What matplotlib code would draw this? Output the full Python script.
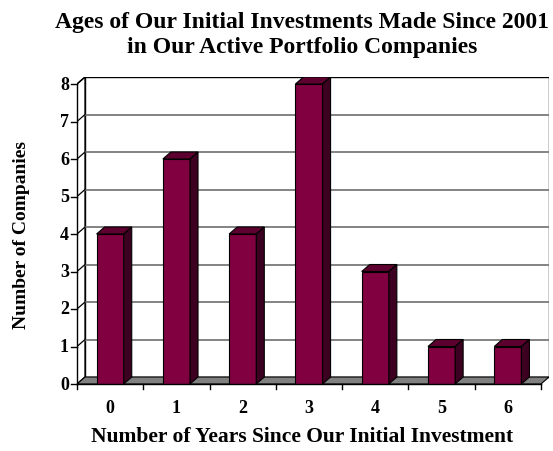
import matplotlib
matplotlib.use("Agg")
import matplotlib.pyplot as plt
from matplotlib.patches import Polygon, Rectangle

categories = ["0", "1", "2", "3", "4", "5", "6"]
values = [4, 6, 4, 8, 3, 1, 1]
yticks = [0, 1, 2, 3, 4, 5, 6, 7, 8]
title = "Ages of Our Initial Investments Made Since 2001\nin Our Active Portfolio Companies"
xlabel = "Number of Years Since Our Initial Investment"
ylabel = "Number of Companies"

plt.rcParams['font.family'] = ['Liberation Serif', 'DejaVu Serif']

fig = plt.figure(figsize=(5.53, 4.52), dpi=100)
W, H = 553, 452
left_px, right_px, bot_px, top_px = 77, 549, 385, 78
ax = fig.add_axes([left_px / W, 1 - bot_px / H, (right_px - left_px) / W, (bot_px - top_px) / H])

n = len(categories)
ymax = max(yticks)
dx = 8 / 66.0
dy = 7 / 37.5
xl, xr = -0.5, n - 0.5
ax.set_xlim(xl, xr + dx)
ax.set_ylim(0, ymax + dy)
for s in ax.spines.values():
    s.set_visible(False)
ax.set_xticks([])
ax.set_yticks([])

front = '#800040'
topc = '#5e002f'
side = '#3c0020'
gridc = '#7a7a7a'

# back wall
ax.add_patch(Rectangle((xl + dx, dy), xr - xl, ymax, facecolor='white', edgecolor='black', lw=1.0, zorder=1))
# left wall
ax.add_patch(Polygon([(xl, 0), (xl + dx, dy), (xl + dx, ymax + dy), (xl, ymax)], closed=True,
                     facecolor='white', edgecolor='black', lw=1.0, zorder=1))
# gridlines
for v in yticks[1:-1]:
    ax.plot([xl + dx, xr + dx], [v + dy, v + dy], color=gridc, lw=1.3, zorder=2)
for v in yticks[1:]:
    ax.plot([xl, xl + dx], [v, v + dy], color='black', lw=0.9, zorder=2)
# floor
ax.add_patch(Polygon([(xl, 0), (xr, 0), (xr + dx, dy), (xl + dx, dy)], closed=True,
                     facecolor='#808080', edgecolor='black', lw=0.8, zorder=3))

# bars
x = list(range(n))
w = 27 / 66.0
ax.bar(x, values, width=w, color=front, edgecolor='black', lw=0.8, zorder=5)
for xi, v in zip(x, values):
    ax.add_patch(Polygon([(xi - w / 2, v), (xi + w / 2, v), (xi + w / 2 + dx, v + dy), (xi - w / 2 + dx, v + dy)],
                         closed=True, facecolor=topc, edgecolor='black', lw=0.8, zorder=5))
    ax.add_patch(Polygon([(xi + w / 2, 0), (xi + w / 2 + dx, dy), (xi + w / 2 + dx, v + dy), (xi + w / 2, v)],
                         closed=True, facecolor=side, edgecolor='black', lw=0.8, zorder=5))

# front axes
ax.plot([xl, xl], [0, ymax], color='black', lw=1.0, zorder=6, clip_on=False)
ax.plot([xl, xr], [0, 0], color='black', lw=1.0, zorder=6, clip_on=False)
tick_dx = 6 / 66.0
tick_dy = 5 / 37.5
for v in yticks:
    ax.plot([xl - tick_dx, xl], [v, v], color='black', lw=1.0, clip_on=False, zorder=6)
    ax.text(xl - 8 / 66.0, v, str(v), ha='right', va='center', fontsize=13, fontweight='bold')
for k in range(n + 1):
    ax.plot([xl + k, xl + k], [0, -tick_dy], color='black', lw=1.0, clip_on=False, zorder=6)
for xi, c in zip(x, categories):
    ax.text(xi, -0.62, c, ha='center', va='center', fontsize=13, fontweight='bold')

fig.text(302 / W, 1 - 437 / H, xlabel, ha='center', va='center', fontsize=15.5, fontweight='bold')
fig.text(22 / W, 1 - 235 / H, ylabel, ha='center', va='center', rotation=90, fontsize=14, fontweight='bold')
fig.text(302 / W, 1 - 35 / H, title, ha='center', va='center', fontsize=17, fontweight='bold', linespacing=1.28)

fig.savefig("out.png", dpi=100)
